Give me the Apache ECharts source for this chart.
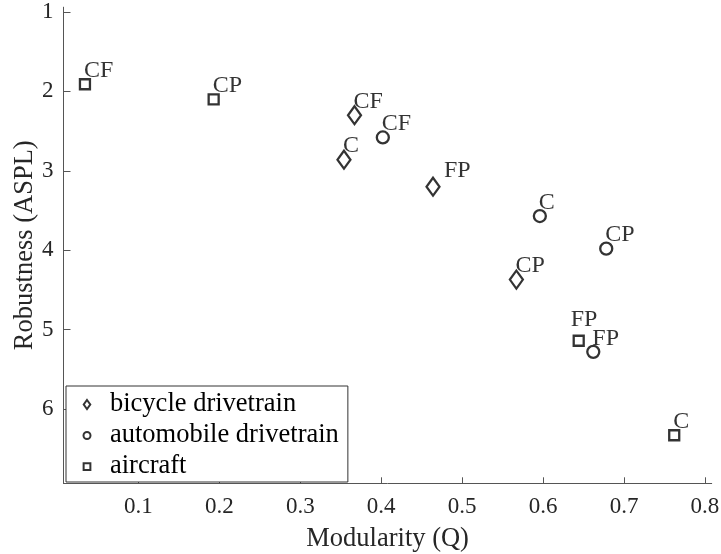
<!DOCTYPE html>
<html>
<head>
<meta charset="utf-8">
<script src="https://cdn.jsdelivr.net/npm/echarts@6/dist/echarts.min.js"></script>
<style>html,body{margin:0;padding:0;background:#fff;}#c{width:721px;height:554px;}</style>
</head>
<body>
<div id="c"></div>
<script>
// ---- data ----
const seriesNames = ['bicycle drivetrain', 'automobile drivetrain', 'aircraft'];
const bicycleLabels = ['CF', 'C', 'FP', 'CP'];
const bicycleQ = [0.367, 0.354, 0.464, 0.567];
const bicycleASPL = [2.30, 2.86, 3.20, 4.37];
const autoLabels = ['CF', 'C', 'CP', 'FP'];
const autoQ = [0.402, 0.596, 0.678, 0.662];
const autoASPL = [2.58, 3.57, 3.98, 5.28];
const aircraftLabels = ['CF', 'CP', 'FP', 'C'];
const aircraftQ = [0.034, 0.193, 0.644, 0.762];
const aircraftASPL = [1.91, 2.10, 5.14, 6.33];
const xTicks = [0.1, 0.2, 0.3, 0.4, 0.5, 0.6, 0.7, 0.8];
const yTicks = [1, 2, 3, 4, 5, 6];

// ---- label placement (style, not data) ----
const defaultShift = [-1, -13.5];
const labelShift = {
  'bicycle drivetrain|FP': [11, -16],
  'aircraft|FP': [-8, -21]
};

const FONT = 'Liberation Serif, Times New Roman, serif';
const AX = '#262626';

function makeData(name, qs, as, labels) {
  return qs.map((q, i) => ({
    value: [q, as[i]],
    name: labels[i],
    label: { offset: labelShift[name + '|' + labels[i]] || defaultShift }
  }));
}

const markerStyle = { color: 'rgba(255,255,255,0)', borderColor: '#000', borderWidth: 2.3 };
const labelStyle = {
  show: true, position: 'inside', align: 'left', verticalAlign: 'middle',
  formatter: '{b}', fontFamily: FONT, fontSize: 24, color: '#000'
};

const chart = echarts.init(document.getElementById('c'), null, { renderer: 'canvas' });
chart.setOption({
  animation: false,
  backgroundColor: '#fff',
  grid: { left: 63.5, right: 9.3, top: 7.2, bottom: 70.7, containLabel: false, outerBoundsMode: 'none' },
  xAxis: {
    type: 'value', min: 0.0075, max: 0.8083,
    name: 'Modularity (Q)', nameLocation: 'middle', nameGap: 56, nameMoveOverlap: false,
    nameTextStyle: { fontFamily: FONT, fontSize: 26.5, color: AX, verticalAlign: 'middle' },
    axisLine: { show: true, onZero: false, lineStyle: { color: '#555', width: 1 } },
    axisTick: { show: true, inside: true, length: 6, customValues: xTicks, lineStyle: { color: '#555' } },
    axisLabel: { customValues: xTicks, margin: 12, fontFamily: FONT, fontSize: 23, color: AX,
      formatter: v => v.toFixed(1) },
    splitLine: { show: false }
  },
  yAxis: {
    type: 'value', inverse: true, min: 0.94, max: 6.935,
    name: 'Robustness (ASPL)', nameLocation: 'middle', nameGap: 38, nameRotate: 90, nameMoveOverlap: false,
    nameTextStyle: { fontFamily: FONT, fontSize: 26.5, color: AX, verticalAlign: 'middle' },
    axisLine: { show: true, onZero: false, lineStyle: { color: '#555', width: 1 } },
    axisTick: { show: true, inside: true, length: 7, customValues: yTicks, lineStyle: { color: '#555' } },
    axisLabel: { customValues: yTicks, margin: 10, fontFamily: FONT, fontSize: 23, color: AX,
      formatter: v => String(Math.round(v)) },
    splitLine: { show: false }
  },
  legend: {
    orient: 'vertical', left: 66, top: 386,
    padding: [3, 9, 0, 15.5], itemGap: 0,
    itemWidth: 9, itemHeight: 9, symbolKeepAspect: true,
    backgroundColor: '#fff', borderColor: '#333', borderWidth: 1,
    selectedMode: false,
    formatter: '{t|{name}}',
    textStyle: {
      fontFamily: FONT, fontSize: 26.5, lineHeight: 31, color: '#000',
      rich: { t: { fontFamily: FONT, fontSize: 26.5, lineHeight: 31, color: '#000', padding: [0, 0, 0, 13.5] } }
    },
    data: [
      { name: seriesNames[0], icon: 'path://M4,0L8,5.5L4,11L0,5.5Z' },
      { name: seriesNames[1], icon: 'path://M-1,-1M8,8M0,3.5A3.5,3.5 0 1,0 7,3.5A3.5,3.5 0 1,0 0,3.5Z' },
      { name: seriesNames[2], icon: 'path://M-1,-1M7,7M0,0H6V6H0Z' }
    ]
  },
  series: [
    { type: 'scatter', name: seriesNames[0], symbol: 'diamond', symbolSize: [13, 18],
      itemStyle: markerStyle, label: labelStyle,
      data: makeData(seriesNames[0], bicycleQ, bicycleASPL, bicycleLabels) },
    { type: 'scatter', name: seriesNames[1], symbol: 'circle', symbolSize: 12,
      itemStyle: markerStyle, label: labelStyle,
      data: makeData(seriesNames[1], autoQ, autoASPL, autoLabels) },
    { type: 'scatter', name: seriesNames[2], symbol: 'rect', symbolSize: 10,
      itemStyle: markerStyle, label: labelStyle,
      data: makeData(seriesNames[2], aircraftQ, aircraftASPL, aircraftLabels) }
  ]
});
</script>
</body>
</html>
